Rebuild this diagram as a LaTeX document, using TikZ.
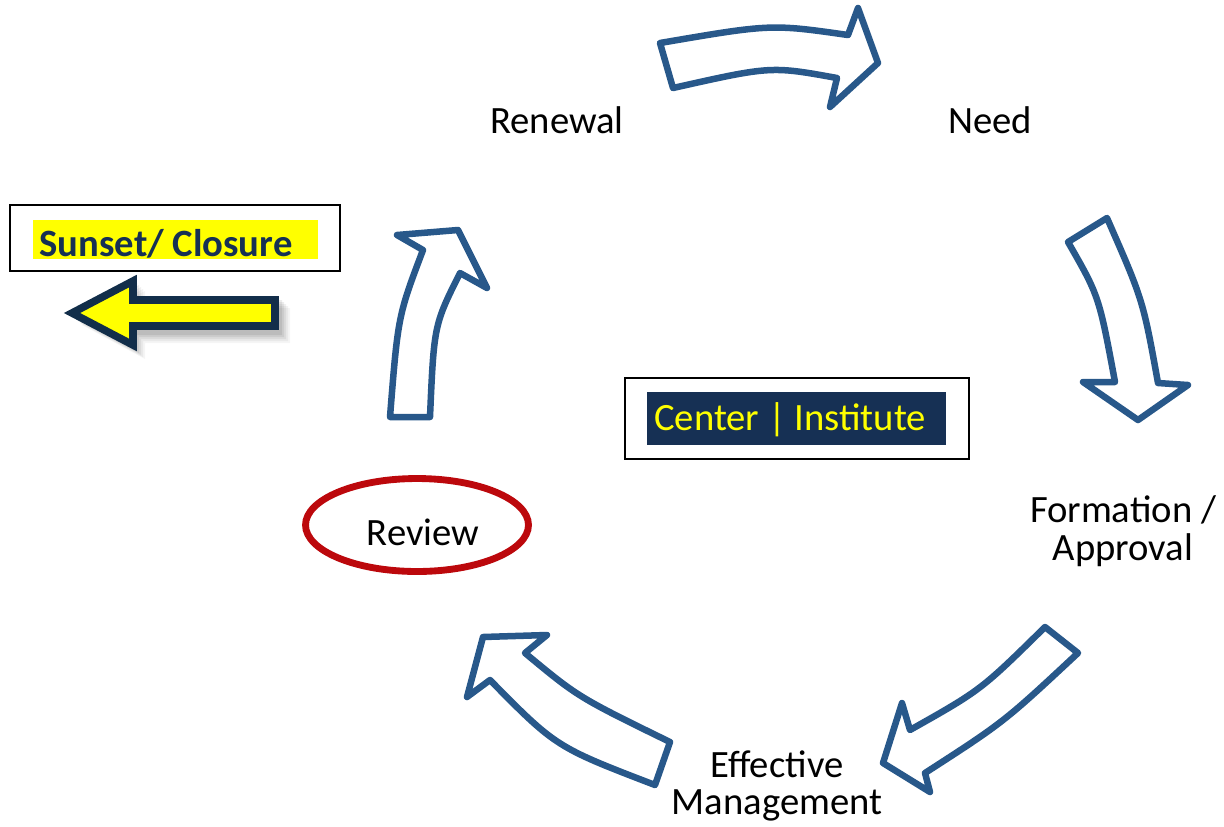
\documentclass[tikz,border=0pt]{standalone}
\usepackage{fontspec}
\setmainfont{Carlito}
\usetikzlibrary{shapes.geometric}
\definecolor{arrowblue}{RGB}{40,88,138}
\definecolor{ringred}{RGB}{188,8,12}
\definecolor{navy}{RGB}{22,48,84}
\definecolor{darknavy}{RGB}{18,46,74}
\definecolor{hiyellow}{RGB}{255,255,0}
\tikzset{
  lbl/.style={inner sep=0pt, font=\fontsize{22}{21.5}\selectfont, text=black},
  cyclearrow/.style={draw=arrowblue, line width=3.7pt, fill=white, line join=round},
  framebox/.style={draw=black, line width=1.3pt, fill=white},
}
\begin{document}
\begin{tikzpicture}[x=0.02cm,y=-0.02cm]
\useasboundingbox (0,0) rectangle (1224,826);

% cycle arrows
\draw[cyclearrow] (660,43) .. controls (771,24) .. (848,35) -- (858,8) -- (878,63) -- (830,107) -- (837,78) .. controls (771,66) .. (673,88) -- cycle;
\draw[cyclearrow] (1068,242) -- (1107,218) .. controls (1143,300) .. (1158,383) -- (1188,385) -- (1138,420) -- (1083,382) -- (1115,382) .. controls (1099,296) .. (1068,242) -- cycle;
\draw[cyclearrow] (1045,627) -- (1078,653) .. controls (1004,722) .. (925,773) -- (930,792) -- (883,763) -- (902,703) -- (910,730) .. controls (981,690) .. (1045,627) -- cycle;
\draw[cyclearrow] (655,785) -- (670,742) .. controls (578,697) .. (525,653) -- (547,635) -- (483,637) -- (467,697) -- (490,680) .. controls (556,747) .. (655,785) -- cycle;
\draw[cyclearrow] (390,417) -- (430,417) .. controls (434,325) .. (460,273) -- (487,288) -- (458,230) -- (397,235) -- (423,250) .. controls (398,316) .. (390,417) -- cycle;

% labels
\node[lbl] (renewal) at (557,120) {Renewal};
\node[lbl] (need) at (990,120) {Need};
\node[lbl, align=center] (formation) at (1123,531) {Formation /\\Approval};
\node[lbl, align=center] (management) at (777,786) {Effective\\Management};

% review ring
\node[ellipse, draw=ringred, line width=3.9pt, minimum width=4.46cm, minimum height=1.86cm, inner sep=0pt] (ring) at (417,525) {};
\node[lbl] (review) at (423,532) {Review};

% center box
\node[framebox, minimum width=6.88cm, minimum height=1.62cm] (centerframe) at (797,418.5) {};
\node[fill=navy, minimum width=5.98cm, minimum height=1.06cm, inner sep=0pt] (centerbg) at (796.5,418.5) {};
\node[inner sep=0pt, text=hiyellow, font=\fontsize{22}{26}\selectfont] (center) at (790,420) {Center | Institute};

% sunset box
\node[framebox, minimum width=6.6cm, minimum height=1.32cm] (sunsetframe) at (175,238) {};
\node[fill=hiyellow, minimum width=5.7cm, minimum height=0.78cm, inner sep=0pt] (sunsetbg) at (175.5,239.5) {};
\node[inner sep=0pt, text=navy, font=\bfseries\fontsize{22}{26}\selectfont] (sunset) at (166,244) {Sunset/ Closure};

% yellow arrow with soft shadow
\foreach \o/\a in {12/0.04,10/0.05,8/0.06,6/0.07,4/0.08}{
  \fill[black, opacity=\a] (70+\o,313+\o) -- (133+\o,279+\o) -- (133+\o,296+\o) -- (278+\o,296+\o) -- (278+\o,331+\o) -- (133+\o,331+\o) -- (133+\o,347+\o) -- cycle;
}
\draw[draw=darknavy, line width=4.3pt, fill=hiyellow, line join=miter] (72,313) -- (133,281) -- (133,300) -- (275,300) -- (275,326) -- (133,326) -- (133,345) -- cycle;
\end{tikzpicture}
\end{document}
